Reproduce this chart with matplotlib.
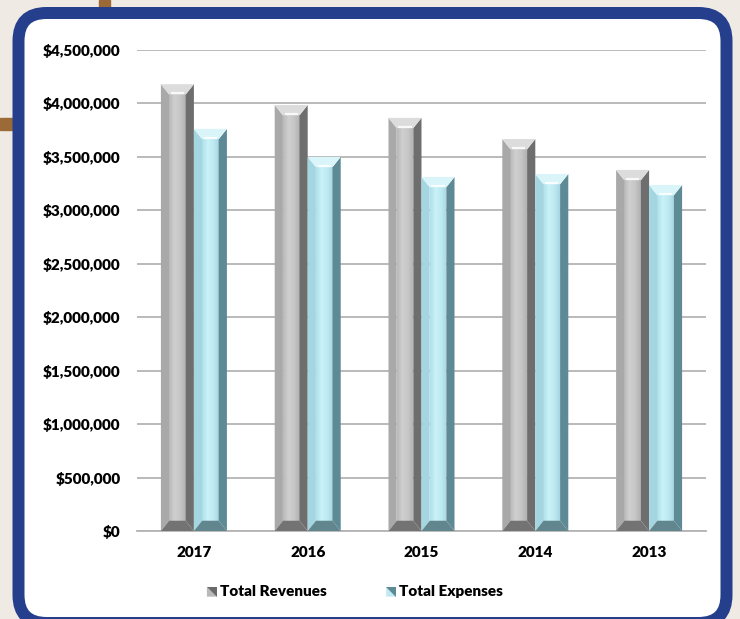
import numpy as np
import matplotlib
matplotlib.use("Agg")
from matplotlib import pyplot as plt
from matplotlib.patches import Polygon, Rectangle, FancyBboxPatch
from matplotlib.transforms import IdentityTransform
from matplotlib.legend_handler import HandlerBase
from matplotlib.colors import LinearSegmentedColormap
from matplotlib.ticker import FuncFormatter, MultipleLocator

# revenue vs expenses, newest year first
years = ['2017', '2016', '2015', '2014', '2013']
revenues = [4180000, 3985000, 3865000, 3667000, 3378000]
expenses = [3762000, 3500000, 3312000, 3340000, 3237000]

plt.rcParams['font.family'] = ['Lato', 'DejaVu Sans']
plt.rcParams['font.weight'] = 'heavy'

# bevel shades: face gradient, left, right, top, bottom
GRAY = dict(face=['#b9b9b9', '#d0d0d0', '#c6c6c6', '#b2b2b2'], left='#a9a9a9',
            right='#6e6e6e', top='#dcdcdc', bottom='#737373')
CYAN = dict(face=['#b0e0ea', '#c9f1f8', '#bfeaf3', '#a8d6e0'], left='#a4d6e1',
            right='#5d8a94', top='#d9f5fa', bottom='#62868e')

W, H = 740, 619
fig = plt.figure(figsize=(W / 100, H / 100), dpi=100, facecolor='#efebe4')
px = IdentityTransform()

# brown trim behind the frame
fig.add_artist(Rectangle((99, H - 12), 11, 12, transform=px, color='#9b6a36', zorder=-3))
fig.add_artist(Rectangle((0, H - 130), 16, 12, transform=px, color='#9b6a36', zorder=-3))

# rounded blue frame
frame = FancyBboxPatch((18.5, -4), 708, 610, boxstyle='round,pad=0,rounding_size=28',
                       transform=px, facecolor='white', edgecolor='#253f8d',
                       linewidth=12 * 0.72, zorder=-2)
fig.add_artist(frame)

ax = fig.add_axes([137 / W, 88 / H, 569 / W, 481 / H])
ax.set_facecolor('none')

bw = 0.29          # bar width in category units
bx = 0.072         # side bevel width
by = 96000         # top/bottom bevel height
grad = np.linspace(0, 1, 64).reshape(1, -1)


def bevel_bar(x0, h, c):
    x1 = x0 + bw
    ix0, ix1 = x0 + bx, x1 - bx
    it, ib = h - by, by
    face = Polygon([(ix0, ib), (ix1, ib), (ix1, it), (ix0, it)], closed=True,
                   facecolor='none', edgecolor='none')
    ax.add_patch(face)
    cmap = LinearSegmentedColormap.from_list('f', c['face'])
    im = ax.imshow(grad, cmap=cmap, extent=(ix0, ix1, ib, it), aspect='auto',
                   interpolation='bilinear', zorder=3)
    im.set_clip_path(face)
    parts = [
        ([(x0, 0), (ix0, ib), (ix0, it), (x0, h)], c['left']),
        ([(x1, 0), (ix1, ib), (ix1, it), (x1, h)], c['right']),
        ([(x0, h), (x1, h), (ix1, it), (ix0, it)], c['top']),
        ([(x0, 0), (x1, 0), (ix1, ib), (ix0, ib)], c['bottom']),
    ]
    for pts, col in parts:
        ax.add_patch(Polygon(pts, closed=True, facecolor=col, edgecolor='none', zorder=3))
    # highlight along the lower edge of the top bevel
    ax.plot([ix0 + 0.015, ix1 - 0.015], [it + 12000, it + 12000], color='white',
            lw=1.6, alpha=0.85, zorder=4, solid_capstyle='butt')


x = np.arange(len(years))
for i in range(len(years)):
    bevel_bar(x[i] - bw, revenues[i], GRAY)
    bevel_bar(x[i], expenses[i], CYAN)

ax.set_xlim(-0.5, len(years) - 0.5)
ax.set_ylim(0, 4500000)
ax.yaxis.set_major_locator(MultipleLocator(500000))
ax.yaxis.set_major_formatter(FuncFormatter(lambda v, p: '${:,.0f}'.format(v)))
ax.grid(axis='y', color='#b4b4b4', lw=1.3, zorder=1)
ax.set_axisbelow(True)
ax.set_xticks(x)
ax.set_xticklabels(years)
for s in ['left', 'right', 'top']:
    ax.spines[s].set_visible(False)
ax.spines['bottom'].set_color('#b4b4b4')
ax.spines['bottom'].set_linewidth(1.3)
ax.tick_params(axis='y', length=0, pad=12, labelsize=11)
ax.tick_params(axis='x', length=0, pad=11, labelsize=11)


class DiagSquare(HandlerBase):
    def __init__(self, light, dark):
        super().__init__()
        self.light, self.dark = light, dark

    def create_artists(self, legend, orig, xd, yd, w, h, fs, trans):
        s = min(w, h)
        x0, y0 = xd + (w - s) / 2, yd + (h - s) / 2
        lo = Polygon([(x0, y0), (x0 + s, y0), (x0, y0 + s)], facecolor=self.light,
                     edgecolor='none', transform=trans)
        hi = Polygon([(x0 + s, y0), (x0 + s, y0 + s), (x0, y0 + s)], facecolor=self.dark,
                     edgecolor='none', transform=trans)
        return [lo, hi]


h1 = Rectangle((0, 0), 1, 1)
h2 = Rectangle((0, 0), 1, 1)
fig.legend([h1, h2], ['Total Revenues', 'Total Expenses'],
           handler_map={h1: DiagSquare('#b9b9b9', '#6a6a6a'),
                        h2: DiagSquare('#bfeaf3', '#5d8a94')},
           loc='center', bbox_to_anchor=(355 / W, 27 / H), ncol=2, frameon=False,
           fontsize=11, handlelength=0.65, handleheight=0.65, handletextpad=0.2,
           columnspacing=3.9)

fig.savefig('out.png', dpi=100, facecolor=fig.get_facecolor())
